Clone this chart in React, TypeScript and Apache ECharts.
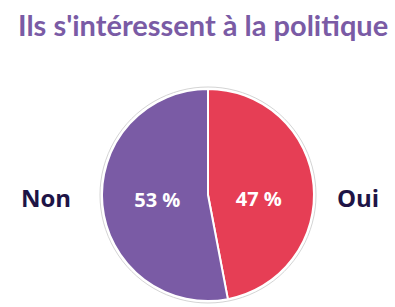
import React, { useEffect, useRef } from "react";
import * as echarts from "echarts";

const titleText = "Ils s'intéressent à la politique";
const categories = ["Oui", "Non"];
const values = [47, 53];
const colors = ["#E63E55", "#7A5BA5"];

export default function App() {
  const ref = useRef<HTMLDivElement>(null);
  useEffect(() => {
    document.body.style.margin = "0";
    const chart = echarts.init(ref.current!, null, { renderer: "svg" });
    const cx = 208;
    const cy = 195;
    const r = 106;
    chart.setOption({
      animation: false,
      backgroundColor: "#ffffff",
      title: {
        text: titleText,
        left: 13,
        top: 5,
        textStyle: {
          color: "#7A5BA5",
          fontFamily: "Lato",
          fontWeight: "bold",
          fontSize: 29,
        },
      },
      graphic: [
        {
          type: "circle",
          shape: { cx, cy, r: r + 2 },
          style: { fill: "none", stroke: "#d4d4d4", lineWidth: 1 },
          silent: true,
        },
        {
          type: "text",
          style: {
            text: categories[1],
            x: 46,
            y: cy + 2,
            align: "center",
            verticalAlign: "middle",
            fill: "#1E1446",
            font: "bold 24px 'Open Sans'",
          },
        },
        {
          type: "text",
          style: {
            text: categories[0],
            x: 358,
            y: cy + 2,
            align: "center",
            verticalAlign: "middle",
            fill: "#1E1446",
            font: "bold 24px 'Open Sans'",
          },
        },
      ],
      series: [
        {
          type: "pie",
          center: [cx, cy],
          radius: [0, r],
          startAngle: 90,
          clockwise: true,
          label: {
            show: true,
            position: "inside",
            formatter: "{c} %",
            color: "#ffffff",
            fontFamily: "Open Sans",
            fontWeight: "bold",
            fontSize: 20,
          },
          labelLine: { show: false },
          itemStyle: { borderColor: "#ffffff", borderWidth: 2 },
          data: categories.map((c, i) => ({
            name: c,
            value: values[i],
            itemStyle: { color: colors[i] },
            label: { offset: i === 0 ? [-5, 9] : [5, -1] },
          })),
        },
      ],
    });
    return () => chart.dispose();
  }, []);
  return <div ref={ref} style={{ width: 395, height: 307 }} />;
}
